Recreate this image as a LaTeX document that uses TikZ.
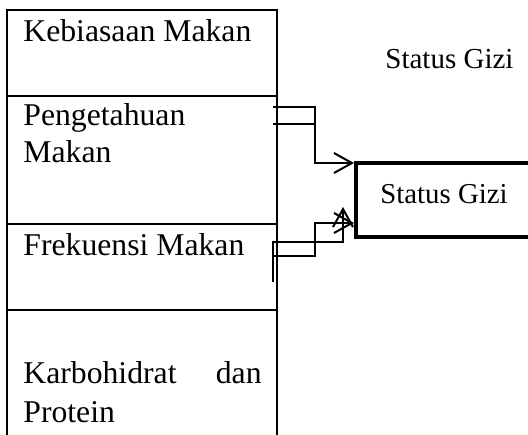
\documentclass[tikz,border=0pt]{standalone}
\usepackage{fontspec}
\setmainfont{Liberation Serif}
\usetikzlibrary{arrows.meta}
\begin{document}
\begin{tikzpicture}[x=0.5pt,y=-0.5pt,
  grid/.style={line width=1pt},
  conn/.style={line width=1pt},
  tip/.style={-{Straight Barb[length=9pt,width=10pt,line width=1pt]}},
  celltext/.style={anchor=base west,inner sep=0pt,font=\fontsize{15.85}{18.5}\selectfont},
  boxtext/.style={anchor=base west,inner sep=0pt,font=\fontsize{14.4}{17}\selectfont}]
\useasboundingbox (0,0) rectangle (528,434);
\clip (0,0) rectangle (528,434);
% table
\draw[grid] (7,440) -- (7,10) -- (277,10) -- (277,440);
\draw[grid] (7,96) -- (277,96);
\draw[grid] (7,224) -- (277,224);
\draw[grid] (7,310) -- (277,310);
\node[celltext] (keb) at (23,41) {Kebiasaan Makan};
\node[celltext] (pen) at (23,125) {Pengetahuan};
\node[celltext] (pen2) at (23,162) {Makan};
\node[celltext] (fre) at (23,255) {Frekuensi Makan};
\node[celltext] (kar1) at (23,383) {Karbohidrat};
\node[celltext,anchor=base east] (kar2) at (262,383) {dan};
\node[celltext] (kar3) at (23,422) {Protein};
% top right label
\node[boxtext,font=\fontsize{14.5}{17}\selectfont] (sg) at (385,68) {Status Gizi};
% box
\draw[line width=2.4pt] (580,163) -- (356,163) -- (356,237) -- (580,237);
\node[boxtext] (box) at (380,203) {Status Gizi};
\coordinate (boxA) at (354,163);
\coordinate (boxB) at (354,223);
\coordinate (boxC) at (343,207);
% upper connector
\coordinate (u1) at (273,107);
\coordinate (u2) at (273,124);
\draw[conn,tip] (u1) -- (315,107) -- (315,163) -- (boxA);
\draw[conn] (u2) -- (315,124);
% lower connector
\coordinate (l1) at (273,282);
\coordinate (l2) at (273,256);
\draw[conn,tip] (l1) -- (273,242) -- (343,242) -- (boxC);
\draw[conn,tip] (l2) -- (315,256) -- (315,223) -- (boxB);
\end{tikzpicture}
\end{document}
